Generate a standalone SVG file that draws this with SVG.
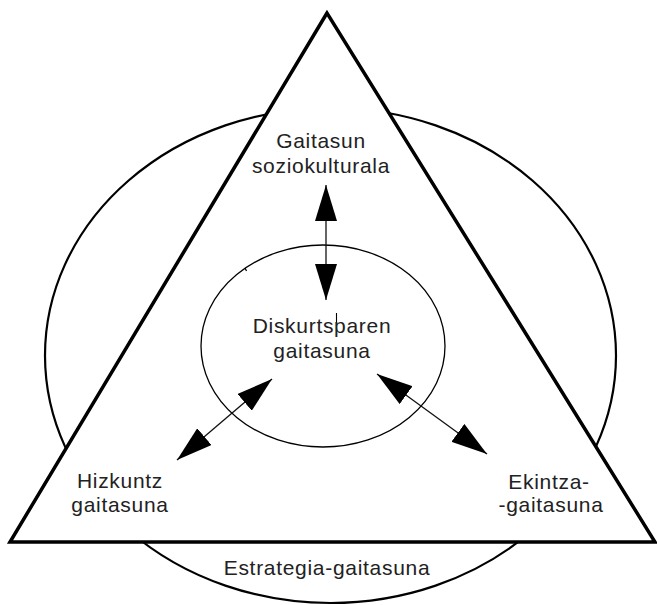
<svg xmlns="http://www.w3.org/2000/svg" width="657" height="605" viewBox="0 0 657 605">
  <style>
    .outline { fill: none; stroke: #000; stroke-linejoin: miter; }
    .label { font-family: "Liberation Sans", Arial, sans-serif; font-size: 21px; letter-spacing: 0.7px; fill: #222; text-anchor: middle; }
    .link { stroke: #111; stroke-width: 1.3; fill: none; }
  </style>
  <defs>
    <marker id="head" viewBox="0 0 36 22" refX="36" refY="11" markerWidth="36" markerHeight="22" markerUnits="userSpaceOnUse" orient="auto-start-reverse">
      <path d="M0,0 L36,11 L0,22 Z" fill="#000"/>
    </marker>
  </defs>
  <rect width="657" height="605" fill="#fff"/>

  <!-- outer ring: strategic competence -->
  <g id="estrategia">
    <ellipse class="outline" cx="330.5" cy="355.5" rx="285.5" ry="247.5" stroke-width="2.2"/>
  </g>

  <!-- triangle on top of the ring -->
  <g id="triangle">
    <polygon points="327,13 10,542 655,542" fill="#fff" stroke="#000" stroke-width="3.5" stroke-linejoin="miter"/>
  </g>

  <!-- inner discourse ellipse -->
  <g id="diskurtsoa">
    <ellipse class="outline" cx="323" cy="346" rx="122" ry="101" stroke-width="1.3"/>
    <path d="M245,268 l1.5,3" stroke="#000" stroke-width="1.2"/>
    <path d="M336.5,313 L336.5,331" stroke="#000" stroke-width="1.1"/>
    <text class="label" x="322" y="333">Diskurtsparen</text>
    <text class="label" x="322" y="358">gaitasuna</text>
  </g>

  <g id="soziokulturala">
    <text class="label" x="321" y="148">Gaitasun</text>
    <text class="label" x="321" y="173">soziokulturala</text>
  </g>

  <g id="hizkuntza">
    <text class="label" x="120" y="488">Hizkuntz</text>
    <text class="label" x="120" y="512">gaitasuna</text>
  </g>

  <g id="ekintza">
    <text class="label" x="549" y="489">Ekintza-</text>
    <text class="label" x="551" y="512">-gaitasuna</text>
  </g>

  <g id="estrategia-label">
    <text class="label" x="327" y="575">Estrategia-gaitasuna</text>
  </g>

  <!-- double-headed connectors -->
  <g id="connectors">
    <line class="link" x1="326" y1="185" x2="326" y2="300" marker-start="url(#head)" marker-end="url(#head)"/>
    <line class="link" x1="177" y1="460" x2="272" y2="379" marker-start="url(#head)" marker-end="url(#head)"/>
    <line class="link" x1="377" y1="374" x2="487" y2="454" marker-start="url(#head)" marker-end="url(#head)"/>
  </g>
</svg>
